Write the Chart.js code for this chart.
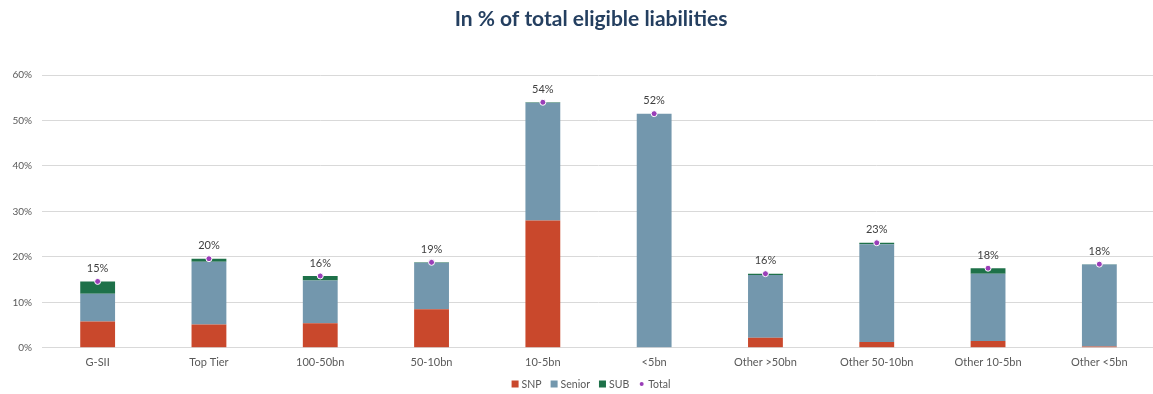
<!DOCTYPE html>
<html>
<head>
<meta charset="utf-8">
<script src="https://cdn.jsdelivr.net/npm/chart.js@4.4.1/dist/chart.umd.min.js"></script>
<style>
    html, body { margin: 0; padding: 0; background: #fff; overflow: hidden; }
    #wrap { width: 1160px; height: 394px; position: relative; }
</style>
</head>
<body>
<div id="wrap"><canvas id="chartPasivos"></canvas></div>
<script>
/* Eligible liabilities by bank group, in % */
const categorias = ['G-SII', 'Top Tier', '100-50bn', '50-10bn', '10-5bn', '<5bn',
                    'Other >50bn', 'Other 50-10bn', 'Other 10-5bn', 'Other <5bn'];
const snp    = [5.8, 5.1, 5.4, 8.5, 28.0, 0.1, 2.2, 1.3, 1.5, 0.3];
const senior = [6.1, 13.8, 9.4, 10.2, 25.9, 51.4, 13.8, 21.5, 14.8, 18.0];
const sub    = [2.7, 0.7, 1.0, 0.1, 0.1, 0.0, 0.3, 0.3, 1.2, 0.1];
const total  = snp.map((v, i) => +(v + senior[i] + sub[i]).toFixed(1));
const ticksY = [0, 10, 20, 30, 40, 50, 60];
const titulo = 'In % of total eligible liabilities';

const FUENTE = 'Lato, "Open Sans", sans-serif';

// etiquetas de valor sobre los puntos de total
const etiquetasTotal = {
    id: 'etiquetasTotal',
    afterDatasetsDraw(chart) {
        const ctx = chart.ctx;
        const meta = chart.getDatasetMeta(3);
        ctx.save();
        ctx.font = '11px ' + FUENTE;
        ctx.fillStyle = '#404040';
        ctx.textAlign = 'center';
        ctx.textBaseline = 'middle';
        meta.data.forEach((pt, i) => {
            ctx.fillText(Math.round(total[i]) + '%', pt.x, pt.y - 13);
        });
        ctx.restore();
    }
};

// título y leyenda dibujados a mano (centrados algo a la derecha del lienzo)
const tituloYLeyenda = {
    id: 'tituloYLeyenda',
    afterDraw(chart) {
        const ctx = chart.ctx;
        const centro = 591;
        ctx.save();

        ctx.font = 'bold 21px ' + FUENTE;
        ctx.fillStyle = '#243F60';
        ctx.textAlign = 'center';
        ctx.textBaseline = 'middle';
        ctx.fillText(titulo, centro, 19);

        ctx.font = '10.5px ' + FUENTE;
        ctx.textAlign = 'left';
        const caja = 7, hueco = 3, separacion = 9, yLey = 384;
        const items = chart.data.datasets.map(ds => ({
            texto: ds.label,
            color: ds.type === 'line' ? ds.pointBackgroundColor : ds.backgroundColor,
            punto: ds.type === 'line'
        }));
        const anchoItem = it => caja + hueco + ctx.measureText(it.texto).width;
        const anchoTotal = items.reduce((s, it) => s + anchoItem(it), 0) + separacion * (items.length - 1);
        let x = centro - anchoTotal / 2;
        items.forEach(it => {
            ctx.fillStyle = it.color;
            if (it.punto) {
                ctx.beginPath();
                ctx.arc(x + caja / 2, yLey, 2, 0, Math.PI * 2);
                ctx.fill();
            } else {
                ctx.fillRect(x, yLey - caja / 2, caja, caja);
            }
            ctx.fillStyle = '#595959';
            ctx.fillText(it.texto, x + caja + hueco, yLey + 0.5);
            x += anchoItem(it) + separacion;
        });
        ctx.restore();
    }
};

const barra = {
    stack: 'pasivos',
    borderWidth: 0,
    barPercentage: 0.313,
    categoryPercentage: 1.0,
    order: 2
};

new Chart(document.getElementById('chartPasivos'), {
    type: 'bar',
    data: {
        labels: categorias,
        datasets: [
            Object.assign({ label: 'SNP', data: snp, backgroundColor: '#C9482C' }, barra),
            Object.assign({ label: 'Senior', data: senior, backgroundColor: '#7397AD' }, barra),
            Object.assign({ label: 'SUB', data: sub, backgroundColor: '#1E7149' }, barra),
            {
                type: 'line',
                label: 'Total',
                data: total,
                showLine: false,
                pointStyle: 'circle',
                pointRadius: 3,
                pointBackgroundColor: '#9A3EB8',
                pointBorderColor: '#ffffff',
                pointBorderWidth: 1,
                backgroundColor: '#9A3EB8',
                borderColor: '#9A3EB8',
                order: 1
            }
        ]
    },
    options: {
        responsive: true,
        maintainAspectRatio: false,
        animation: false,
        layout: { padding: { left: 0, right: 0, top: 75, bottom: 17 } },
        plugins: {
            title: { display: false },
            legend: { display: false },
            tooltip: { enabled: false }
        },
        scales: {
            x: {
                stacked: true,
                grid: { display: false, drawTicks: false },
                border: { color: '#D9D9D9' },
                ticks: { color: '#595959', font: { family: FUENTE, size: 11 }, padding: 8, maxRotation: 0 }
            },
            y: {
                stacked: true,
                min: 0,
                max: 60,
                afterFit: (scale) => { scale.width = 42; },
                afterBuildTicks: (scale) => { scale.ticks = ticksY.map(v => ({ value: v })); },
                grid: { color: '#D9D9D9', drawTicks: false },
                border: { display: false },
                ticks: {
                    color: '#595959',
                    font: { family: FUENTE, size: 10 },
                    padding: 10,
                    callback: (v) => v + '%'
                }
            }
        }
    },
    plugins: [etiquetasTotal, tituloYLeyenda]
});
</script>
</body>
</html>
